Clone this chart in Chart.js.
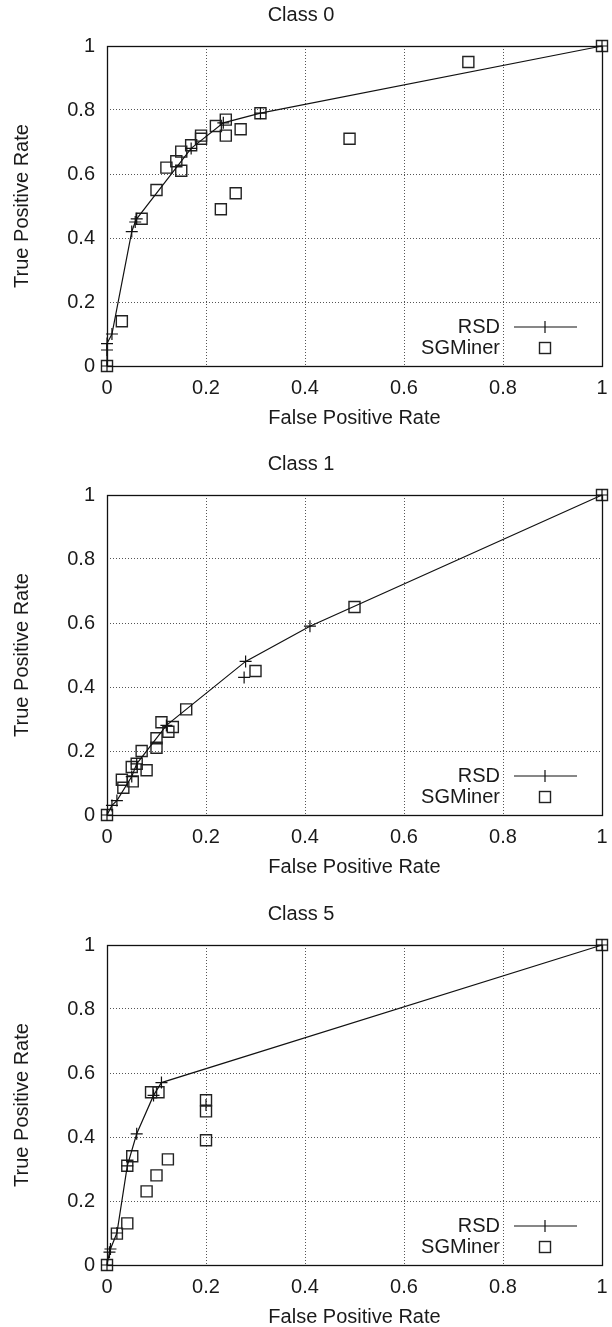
<!DOCTYPE html>
<html><head><meta charset="utf-8">
<script src="https://cdn.jsdelivr.net/npm/chart.js@4.4.1/dist/chart.umd.min.js"></script>
<style>
html,body{margin:0;padding:0;background:#fff;width:612px;height:1327px;overflow:hidden;position:relative;}
canvas{position:absolute;left:0;}
</style></head><body>
<canvas id="c0" width="612" height="449" style="top:0px"></canvas>
<canvas id="c1" width="612" height="449" style="top:449px"></canvas>
<canvas id="c2" width="612" height="449" style="top:899px"></canvas>
<script>
// ---- data ----
const classTitles = ["Class 0", "Class 1", "Class 5"];
const tickValues = [0, 0.2, 0.4, 0.6, 0.8, 1];
const tickLabels = ["0", "0.2", "0.4", "0.6", "0.8", "1"];
const seriesNames = ["RSD", "SGMiner"];
const xAxisTitle = "False Positive Rate";
const yAxisTitle = "True Positive Rate";

// Class 0
const c0RsdFpr = [0, 0, 0, 0.01, 0.05, 0.057, 0.06, 0.17, 0.235, 0.31, 1];
const c0RsdTpr = [0, 0.05, 0.07, 0.10, 0.42, 0.45, 0.46, 0.68, 0.76, 0.79, 1];
const c0RsdOffFpr = [];
const c0RsdOffTpr = [];
const c0SgFpr = [0, 0.03, 0.07, 0.10, 0.12, 0.14, 0.15, 0.15, 0.17, 0.19, 0.19, 0.22, 0.24, 0.24, 0.27, 0.23, 0.26, 0.31, 0.49, 0.73, 1];
const c0SgTpr = [0, 0.14, 0.46, 0.55, 0.62, 0.64, 0.67, 0.61, 0.69, 0.72, 0.71, 0.75, 0.77, 0.72, 0.74, 0.49, 0.54, 0.79, 0.71, 0.95, 1];

// Class 1
const c1RsdFpr = [0, 0.01, 0.02, 0.05, 0.06, 0.12, 0.28, 0.41, 1];
const c1RsdTpr = [0, 0.03, 0.045, 0.12, 0.16, 0.28, 0.48, 0.59, 1];
const c1RsdOffFpr = [0.277];
const c1RsdOffTpr = [0.43];
const c1SgFpr = [0, 0.03, 0.033, 0.052, 0.05, 0.06, 0.07, 0.08, 0.10, 0.10, 0.11, 0.124, 0.133, 0.16, 0.30, 0.50, 1];
const c1SgTpr = [0, 0.11, 0.085, 0.105, 0.15, 0.16, 0.20, 0.14, 0.21, 0.24, 0.29, 0.26, 0.275, 0.33, 0.45, 0.65, 1];

// Class 5
const c5RsdFpr = [0, 0.005, 0.007, 0.02, 0.041, 0.06, 0.094, 0.11, 1];
const c5RsdTpr = [0, 0.04, 0.05, 0.10, 0.31, 0.41, 0.53, 0.57, 1];
const c5RsdOffFpr = [0.2];
const c5RsdOffTpr = [0.5];
const c5SgFpr = [0, 0.02, 0.041, 0.041, 0.051, 0.08, 0.10, 0.123, 0.089, 0.104, 0.2, 0.2, 0.2, 1];
const c5SgTpr = [0, 0.098, 0.13, 0.31, 0.34, 0.23, 0.28, 0.33, 0.54, 0.54, 0.515, 0.48, 0.39, 1];

const panels = [
  {title: classTitles[0], rx: c0RsdFpr, ry: c0RsdTpr, ox: c0RsdOffFpr, oy: c0RsdOffTpr, sx: c0SgFpr, sy: c0SgTpr},
  {title: classTitles[1], rx: c1RsdFpr, ry: c1RsdTpr, ox: c1RsdOffFpr, oy: c1RsdOffTpr, sx: c1SgFpr, sy: c1SgTpr},
  {title: classTitles[2], rx: c5RsdFpr, ry: c5RsdTpr, ox: c5RsdOffFpr, oy: c5RsdOffTpr, sx: c5SgFpr, sy: c5SgTpr}
];

const FONT = '"Liberation Sans", Arial, Helvetica, sans-serif';
const TXT = '#1a1a1a';
const pts = (xs, ys) => xs.map((x, i) => ({x: x, y: ys[i]}));
const fmtTick = (v) => { const i = tickValues.findIndex(t => Math.abs(t - v) < 1e-9); return i >= 0 ? tickLabels[i] : ''; };

const frameLegend = {
  id: 'frameLegend',
  afterDatasetsDraw(chart) {
    const ctx = chart.ctx, a = chart.chartArea;
    ctx.save();
    ctx.strokeStyle = '#111';
    ctx.lineWidth = 1.3;
    ctx.setLineDash([]);
    ctx.strokeRect(Math.round(a.left) + 0.5, Math.round(a.top) + 0.5, Math.round(a.right - a.left), Math.round(a.bottom - a.top));
    // legend
    ctx.font = '20px ' + FONT;
    ctx.fillStyle = TXT;
    ctx.textAlign = 'right';
    ctx.textBaseline = 'middle';
    const tx = a.right - 102;
    const y1 = a.bottom - 39, y2 = a.bottom - 18;
    const sym = a.right - 57;
    ctx.fillText(chart.data.datasets[0].label, tx, y1);
    ctx.fillText(chart.data.datasets[1].label, tx, y2);
    ctx.strokeStyle = '#111';
    ctx.lineWidth = 1.2;
    ctx.beginPath();
    ctx.moveTo(a.right - 88, y1); ctx.lineTo(a.right - 25, y1);
    ctx.moveTo(sym, y1 - 6); ctx.lineTo(sym, y1 + 6);
    ctx.stroke();
    ctx.lineWidth = 1.4;
    ctx.strokeStyle = '#222';
    ctx.strokeRect(sym - 5.5, y2 - 5.5, 11, 11);
    ctx.restore();
  }
};

panels.forEach((p, i) => {
  new Chart(document.getElementById('c' + i), {
    type: 'scatter',
    data: {
      datasets: [
        {label: seriesNames[0], data: pts(p.rx, p.ry), showLine: true, borderColor: '#111', borderWidth: 1.2,
         pointStyle: 'cross', pointRadius: 6, pointBorderColor: '#111', pointBorderWidth: 1.2, backgroundColor: 'transparent', tension: 0, clip: false},
        {label: seriesNames[1], data: pts(p.sx, p.sy), showLine: false,
         pointStyle: 'rect', pointRadius: 7.8, pointBorderColor: '#222', pointBorderWidth: 1.4, pointBackgroundColor: 'transparent', clip: false},
        {label: seriesNames[0] + ' ', data: pts(p.ox, p.oy), showLine: false,
         pointStyle: 'cross', pointRadius: 6, pointBorderColor: '#111', pointBorderWidth: 1.2, clip: false}
      ]
    },
    options: {
      responsive: false,
      animation: false,
      devicePixelRatio: 1,
      layout: {padding: {top: 0, right: 10, bottom: 13, left: 0}},
      plugins: {
        legend: {display: false},
        tooltip: {enabled: false},
        title: {display: true, text: p.title, color: TXT, font: {family: FONT, size: 20, weight: 'normal'}, padding: {top: 3, bottom: 19}}
      },
      scales: {
        x: {
          type: 'linear', position: 'bottom', min: 0, max: 1,
          afterBuildTicks: s => { s.ticks = tickValues.map(v => ({value: v})); },
          afterFit: s => { s.height = 70; s.paddingLeft = 0; s.paddingRight = 0; },
          ticks: {color: TXT, font: {family: FONT, size: 20}, padding: 10, maxRotation: 0, callback: v => fmtTick(v)},
          grid: {color: '#555', lineWidth: 1, drawTicks: false},
          border: {display: false, dash: [1, 2]},
          title: {display: true, text: xAxisTitle, color: TXT, font: {family: FONT, size: 20}, padding: {top: 0, bottom: 6}}
        },
        y: {
          type: 'linear', min: 0, max: 1,
          afterBuildTicks: s => { s.ticks = tickValues.map(v => ({value: v})); },
          afterFit: s => { s.width = 107; s.paddingTop = 0; s.paddingBottom = 0; },
          ticks: {color: TXT, font: {family: FONT, size: 20}, padding: 12, callback: v => fmtTick(v)},
          grid: {color: '#555', lineWidth: 1, drawTicks: false},
          border: {display: false, dash: [1, 2]},
          title: {display: true, text: yAxisTitle, color: TXT, font: {family: FONT, size: 20}, padding: {top: 10, bottom: 0}}
        }
      }
    },
    plugins: [frameLegend]
  });
});
</script>
</body></html>
